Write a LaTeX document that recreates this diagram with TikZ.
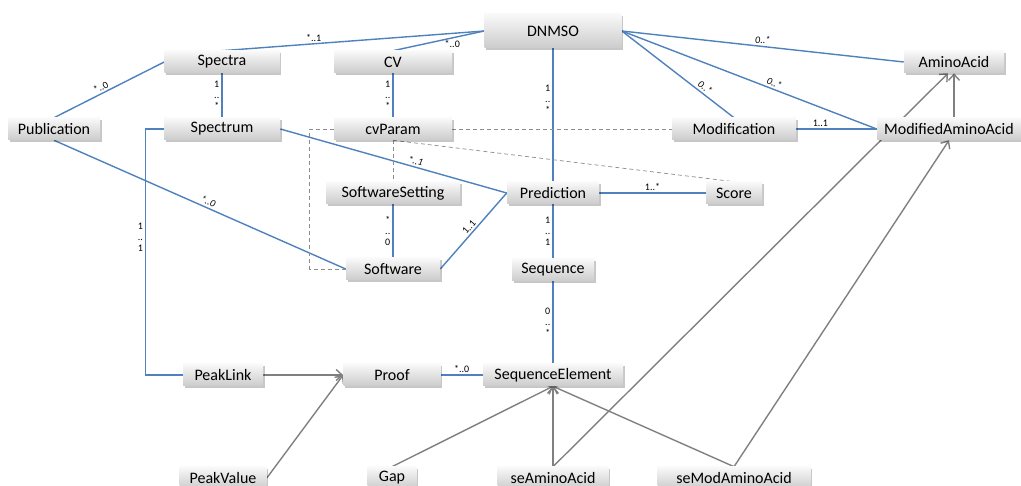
\documentclass[tikz,border=0pt]{standalone}
\usepackage{fontspec}
\setmainfont{Carlito}
\usetikzlibrary{arrows.meta,shadows,backgrounds}
\definecolor{linkblue}{HTML}{4F81BD}
\definecolor{arrowgray}{HTML}{808080}
\definecolor{dashgray}{HTML}{8C8C8C}

\begin{document}
\begin{tikzpicture}[x=1pt,y=-1pt,>={Straight Barb[length=6pt,width=11pt]},
                    node distance=67pt,semithick]
\tikzstyle{box}=[draw=none,top color=gray!5,bottom color=gray!40,
                 minimum height=22pt,inner sep=2pt,
                 drop shadow={shadow xshift=1.5pt,shadow yshift=-2pt,fill=black,opacity=0.22}]
\tikzstyle{mult}=[font=\fontsize{10pt}{11pt}\selectfont,inner sep=2pt,align=center]
\tikzstyle{assoc}=[draw=linkblue,line width=1.4pt]
\tikzstyle{isa}=[draw=arrowgray,line width=1.4pt,->]
\tikzstyle{ref}=[draw=dashgray,line width=0.7pt,dash pattern=on 4pt off 3pt]
\tikzset{font=\fontsize{16pt}{19pt}\selectfont}

        \useasboundingbox (0,0) rectangle (1021,486);

        % middle column
        \node[box,minimum width=137pt,minimum height=34pt]   (dn)                                    at (553,31) {DNMSO};
        \node[box,minimum width=92pt]                        (pred)  [below of=dn,node distance=162pt]   {Prediction};
        \node[box,minimum width=82pt]                        (seq)   [below of=pred,node distance=77pt]  {Sequence};
        \node[box,minimum width=140pt]                       (sel)   [below of=seq,node distance=105pt]  {SequenceElement};
        \node[box,minimum width=111pt]                       (saa)   [below of=sel,node distance=103pt]  {seAminoAcid};

        % right side
        \node[box,minimum width=153pt]                       (sma)   [right of=saa,node distance=181pt]  {seModAminoAcid};
        \node[box,minimum width=56pt]                        (scr)   [right of=pred,node distance=181pt] {Score};
        \node[box,minimum width=124pt]                       (mod)   [above of=scr,node distance=64pt]   {Modification};
        \node[box,minimum width=144pt]                       (maa)   [right of=mod,node distance=215pt]  {ModifiedAminoAcid};
        \node[box,minimum width=100pt,xshift=5pt]            (aa)    [above of=maa]                      {AminoAcid};

        % left side
        \node[box,minimum width=118pt]                       (cvp)   [left of=mod,node distance=341pt]   {cvParam};
        \node[box,minimum width=118pt]                       (cv)    [above of=cvp]                      {CV};
        \node[box,minimum width=134pt]                       (sws)   [below of=cvp,node distance=64pt]   {SoftwareSetting};
        \node[box,minimum width=94pt]                        (sw)    [below of=cvp,node distance=140pt]  {Software};
        \node[box,minimum width=116pt]                       (spm)   [left of=cvp,node distance=171pt]   {Spectrum};
        \node[box,minimum width=115pt]                       (spa)   [above of=spm]                      {Spectra};
        \node[box,minimum width=92pt]                        (pub)   [left of=spm,node distance=168pt]   {Publication};

        % bottom left
        \node[box,minimum width=97pt]                        (prf)   [left of=sel,node distance=161pt]   {Proof};
        \node[box,minimum width=80pt]                        (pl)    [left of=prf,node distance=169pt]   {PeakLink};
        \node[box,minimum width=87pt]                        (pv)    [below of=pl,node distance=103pt]   {PeakValue};
        \node[box,minimum width=49pt]                        (gap)   [below of=prf,node distance=103pt]  {Gap};

        \begin{scope}[on background layer]
        \path[assoc]
        (dn.west)    edge node[mult,pos=0.65,above] {*..1}                    (spa.north)
        (dn.west)    edge node[mult,pos=0.35,below] {*..0}                    (cv.north)
        (pub.north)  edge node[mult,pos=0.45,above,sloped] {*..0}             (spa.west)
        (spa)        edge node[mult,left] {1\\..\\*}                          (spm)
        (cv)         edge node[mult,left] {1\\..\\*}                          (cvp)
        (pub.south)  edge node[mult,pos=0.52,above,sloped] {\itshape *..0}    (sw.west)
        (spm.east)   edge node[mult,pos=0.59,above,sloped] {\itshape *..1}    (pred.west)
        (sws)        edge node[mult,left] {*\\..\\0}                          (sw)
        (sw.east)    edge node[mult,pos=0.5,above,sloped] {1..1}              (pred.west)
        (dn)         edge node[mult,pos=0.38,left] {1\\..\\*}                 (pred)
        (pred)       edge node[mult,above] {1..*}                             (scr)
        (pred)       edge node[mult,left] {1\\..\\1}                          (seq)
        (seq)        edge node[mult,left] {0\\..\\*}                          (sel)
        (prf)        edge node[mult,above] {*..0}                             (sel)
        (dn.east)    edge node[mult,pos=0.5,above] {\itshape 0..*}            (aa.west)
        (dn.east)    edge node[mult,pos=0.71,above,sloped] {\itshape 0..*}    (mod.north)
        (dn.east)    edge node[mult,pos=0.59,above,sloped] {\itshape 0..*}    (maa.west)
        (mod)        edge node[mult,pos=0.3,above] {1..1}                     (maa)
        ; %end path

        \draw[assoc] (spm.west) -- ++(-18,0) |- node[mult,pos=0.22,left] {1\\..\\1} (pl.west);

        \path[isa]
        (pl)         edge (prf)
        (pv.east)    edge (prf.west)
        (gap.north)  edge (sel.south)
        (saa)        edge (sel)
        (sma.north)  edge (sel.south)
        (saa.north)  edge ([xshift=-6pt]aa.south)
        (sma.north)  edge (maa.south)
        (maa.north -| aa.south) edge (aa.south)
        ; %end path

        \draw[ref] (cvp.west) -- ++(-24,0) |- (sw.west);
        \draw[ref] (cvp.east) -- (mod.west);
        \draw[ref] (cvp.south) -- (sws.north);
        \draw[ref] (cvp.south) -- (scr.north);
        \end{scope}

\end{tikzpicture}
\end{document}
